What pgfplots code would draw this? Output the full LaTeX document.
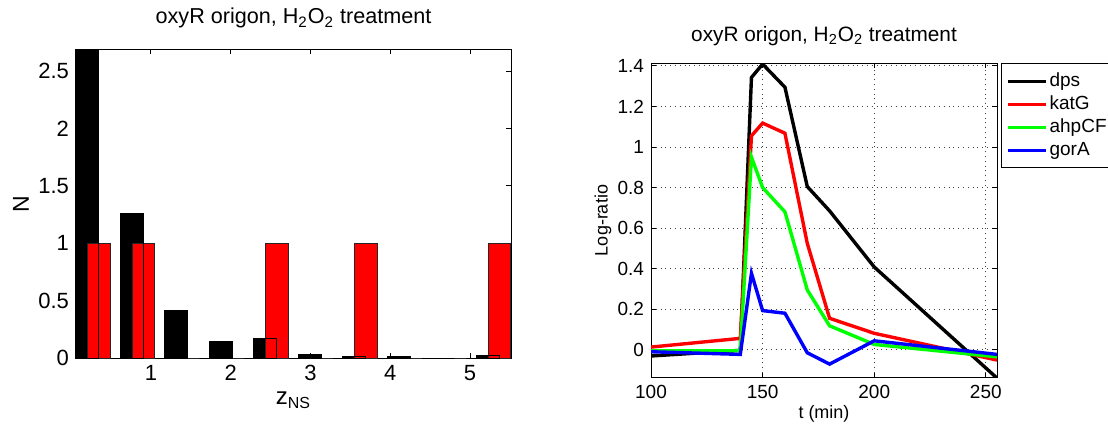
\documentclass[border=0pt]{standalone}
\usepackage{fontspec}
\setmainfont{Liberation Sans}
\usepackage{pgfplots}
\pgfplotsset{compat=1.18}
\pgfplotsset{every axis title shift=0pt}

\begin{document}
\begin{tikzpicture}
% left: histograms of z_NS
\begin{axis}[
  at={(38pt,33.85pt)}, anchor=south west,
  scale only axis, width=217.5pt, height=154.5pt,
  xmin=0.06, xmax=5.514, ymin=0, ymax=2.69,
  xtick={1,2,3,4,5}, ytick={0,0.5,1,1.5,2,2.5},
  tick align=inside, xtick pos=both, ytick pos=both,
  major tick length=2.4pt,
  tick style={black, line width=0.5pt},
  axis line style={line width=0.5pt},
  /pgf/number format/assume math mode=true,
  ticklabel style={font=\fontsize{11pt}{13pt}\selectfont},
  title={oxyR origon, H\textsubscript{2}O\textsubscript{2} treatment},
  title style={font=\fontsize{10.8pt}{12pt}\selectfont, anchor=base, yshift=0pt, at={(axis description cs:0.5,1.082)}},
  xlabel={\fontsize{12pt}{14pt}\selectfont z\textsubscript{NS}},
  xlabel style={anchor=base, at={(axis description cs:0.5,-0.151)}},
  ylabel={N},
  ylabel style={font=\fontsize{11.5pt}{13pt}\selectfont, anchor=center, at={(axis description cs:-0.1264,0.5)}},
]
\addplot[ybar, bar width=0.285, fill=black, draw=black, line width=0.5pt] coordinates {
  (0.200,3.0) (0.758,1.26) (1.316,0.42) (1.874,0.15) (2.432,0.175)
  (2.990,0.035) (3.548,0.018) (4.106,0.015) (4.664,0) (5.222,0.025)
};
\addplot[ybar, bar width=0.285, fill=red, draw=black!85, line width=0.5pt] coordinates {
  (0.348,1) (0.906,1) (1.464,0) (2.022,0) (2.580,1)
  (3.138,0) (3.696,1) (4.254,0) (4.812,0) (5.370,1)
};
\addplot[ybar, bar width=0.285, fill=none, draw=black, line width=0.5pt] coordinates {
  (0.200,3.0) (0.758,1.26) (1.316,0.42) (1.874,0.15) (2.432,0.175)
  (2.990,0.035) (3.548,0.018) (4.106,0.015) (4.664,0) (5.222,0.025)
};
\end{axis}

% right: time courses
\begin{axis}[
  at={(325.5pt,24.15pt)}, anchor=south west,
  scale only axis, width=173pt, height=157.2pt,
  xmin=100, xmax=255, ymin=-0.138, ymax=1.413,
  xtick={100,150,200,250}, ytick={0,0.2,0.4,0.6,0.8,1,1.2,1.4},
  tick align=inside, xtick pos=both, ytick pos=both,
  major tick length=2.4pt,
  tick style={black, line width=0.5pt},
  axis line style={line width=0.5pt},
  grid=major, major grid style={dotted, black!75, line width=0.5pt},
  /pgf/number format/assume math mode=true,
  ticklabel style={font=\fontsize{9.5pt}{11pt}\selectfont},
  title={oxyR origon, H\textsubscript{2}O\textsubscript{2} treatment},
  title style={font=\fontsize{10.4pt}{12pt}\selectfont, anchor=base, yshift=0pt, at={(axis description cs:0.5,1.069)}},
  xlabel={t (min)},
  xlabel style={font=\fontsize{9pt}{11pt}\selectfont, anchor=base, at={(axis description cs:0.5,-0.129)}},
  ylabel={Log-ratio},
  ylabel style={font=\fontsize{9pt}{11pt}\selectfont, anchor=center, at={(axis description cs:-0.139,0.5)}},
  legend image code/.code={\draw[#1] (0pt,0pt) -- (19pt,0pt);},
  legend style={at={(1,1)}, anchor=north west, xshift=1.85pt, draw=black, line width=0.5pt,
    font=\fontsize{9.5pt}{10pt}\selectfont, inner xsep=2.5pt, inner ysep=3pt,
    nodes={inner xsep=1pt, inner ysep=1.25pt, text height=7pt, text depth=2pt},
    cells={anchor=west}},
]
\addplot[black, line width=1.7pt] coordinates {
  (100,-0.031) (140,-0.003) (145,1.343) (150,1.409) (160,1.295)
  (170,0.805) (180,0.685) (200,0.408) (255,-0.14)
};
\addlegendentry{dps}
\addplot[red, line width=1.7pt] coordinates {
  (100,0.013) (140,0.056) (145,1.055) (150,1.118) (160,1.068)
  (170,0.525) (180,0.155) (200,0.081) (255,-0.051)
};
\addlegendentry{katG}
\addplot[green, line width=1.7pt] coordinates {
  (100,-0.005) (140,-0.005) (145,0.95) (150,0.80) (160,0.68)
  (170,0.295) (180,0.118) (200,0.026) (255,-0.035)
};
\addlegendentry{ahpCF}
\addplot[blue, line width=1.7pt] coordinates {
  (100,-0.01) (140,-0.023) (145,0.377) (150,0.193) (160,0.18)
  (170,-0.015) (180,-0.071) (200,0.044) (255,-0.023)
};
\addlegendentry{gorA}
\end{axis}
\pgfresetboundingbox
\path[use as bounding box] (0pt,0pt) rectangle (554pt,213pt);
\end{tikzpicture}
\end{document}
